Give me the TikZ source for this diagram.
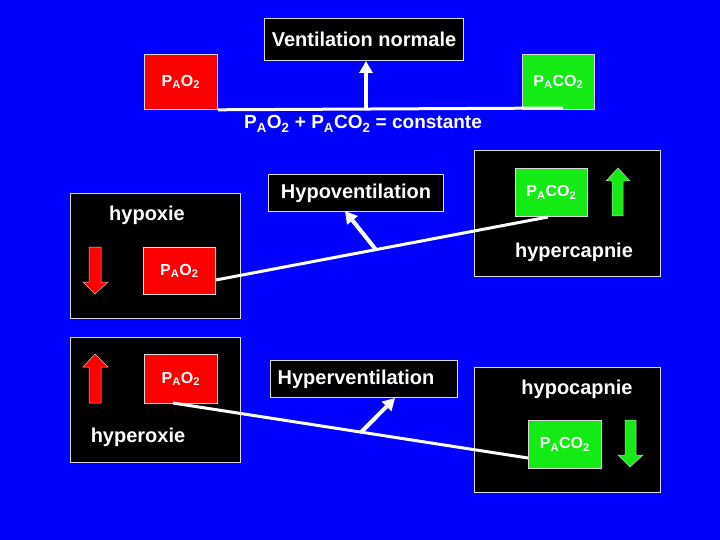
\documentclass[tikz,border=0pt]{standalone}
\usepackage{fontspec}
\setmainfont{Liberation Sans}
\usetikzlibrary{arrows.meta,calc}
\definecolor{bgblue}{RGB}{0,0,255}
\definecolor{boxred}{RGB}{255,0,0}
\definecolor{boxgreen}{RGB}{20,235,20}
\newcommand{\myPAO}{P\textsubscript{A}O\textsubscript{2}}
\newcommand{\myPACO}{P\textsubscript{A}CO\textsubscript{2}}
\tikzset{
  blackbox/.style={draw=white!85!black, line width=1pt, fill=black, inner sep=0pt, anchor=north west},
  redbox/.style={draw=white!85!black, line width=0.8pt, fill=boxred, inner sep=0pt, anchor=north west},
  greenbox/.style={draw=white!85!black, line width=0.8pt, fill=boxgreen, inner sep=0pt, anchor=north west},
  lbl/.style={text=white, font=\bfseries\fontsize{20}{24}\selectfont, inner sep=0pt},
  smlbl/.style={text=white, font=\bfseries\fontsize{16}{19}\selectfont, inner sep=0pt},
  wline/.style={draw=white, line width=3pt},
  warrow/.style={draw=white, line width=4pt, -{Triangle[width=13pt,length=12pt]}},
  blockarrow/.style={draw=white!80!black, line width=0.5pt}
}
\begin{document}
\begin{tikzpicture}[x=1pt,y=-1pt]
\fill[bgblue] (0,0) rectangle (720,540);
\useasboundingbox (0,0) rectangle (720,540);

% top part
\node[blackbox, minimum width=199pt, minimum height=42pt] (vn) at (264,18) {};
\node[lbl] at (vn.center) {Ventilation normale};
\node[redbox, minimum width=73pt, minimum height=55pt] (topo) at (144,54) {};
\node[smlbl] at (topo.center) {\myPAO};
\node[greenbox, minimum width=72pt, minimum height=55pt] (topc) at (522,54) {};
\node[smlbl] at (topc.center) {\myPACO};
\coordinate (hend) at (563,108);
\coordinate (hmid) at (366,108);
\draw[wline] (topo.south east) -- (hend);
\draw[warrow] (hmid) -- (vn.south -| hmid);
\node[lbl, font=\bfseries\fontsize{19}{23}\selectfont] (const) at (363,124) {\myPAO{} + \myPACO{} = constante};

% hypoventilation part
\node[blackbox, minimum width=170pt, minimum height=125pt] (hypox) at (70,193) {};
\node[lbl] (hypoxt) at (147,215) {hypoxie};
\node[redbox, minimum width=72pt, minimum height=47pt] (mo) at (143,247) {};
\node[smlbl] at (mo.center) {\myPAO};
\fill[boxred, blockarrow] (89,247) -- (101,247) -- (101,282) -- (108,282) -- (95,294) -- (83,282) -- (89,282) -- cycle;

\node[blackbox, minimum width=186pt, minimum height=126pt] (hcap) at (474,150) {};
\node[greenbox, minimum width=72pt, minimum height=48pt] (mc) at (515,168) {};
\node[smlbl] at (mc.center) {\myPACO};
\fill[boxgreen, blockarrow] (612,216) -- (623,216) -- (623,181) -- (630,181) -- (618,168) -- (606,181) -- (612,181) -- cycle;
\node[lbl] (hcapt) at (574,252) {hypercapnie};

\node[blackbox, minimum width=175pt, minimum height=37pt] (hypov) at (268,174) {};
\node[lbl] at (hypov.center) {Hypoventilation};

\coordinate (mcpt) at (548,217);
\draw[wline] (mo.east |- 0,280) -- (mcpt);
\coordinate (m1) at ($(215,280)!0.483!(mcpt)$);
\draw[warrow] (m1) -- (345,211);

% hyperventilation part
\node[blackbox, minimum width=170pt, minimum height=125pt] (hyperox) at (70,337) {};
\node[redbox, minimum width=73pt, minimum height=49pt] (bo) at (144,354) {};
\node[smlbl] at (bo.center) {\myPAO};
\fill[boxred, blockarrow] (89,403) -- (101,403) -- (101,367) -- (108,367) -- (95,354) -- (83,367) -- (89,367) -- cycle;
\node[lbl] (hyperoxt) at (138,437) {hyperoxie};

\node[blackbox, minimum width=186pt, minimum height=125pt] (hocap) at (474,367) {};
\node[lbl] (hocapt) at (577,389) {hypocapnie};
\node[greenbox, minimum width=73pt, minimum height=48pt] (bc) at (528,420) {};
\node[smlbl] at (bc.center) {\myPACO};
\fill[boxgreen, blockarrow] (625,420) -- (636,420) -- (636,455) -- (643,455) -- (630,467) -- (618,455) -- (625,455) -- cycle;

\node[blackbox, minimum width=187pt, minimum height=37pt] (hyperv) at (270,360) {};
\node[lbl] at (356,379) {Hyperventilation};

\coordinate (bopt) at (173,403);
\draw[wline] (bopt) -- (bc.west |- 0,458);
\coordinate (m2) at ($(bopt)!0.53!(528,458)$);
\draw[warrow] (m2) -- (395,398);
\end{tikzpicture}
\end{document}
